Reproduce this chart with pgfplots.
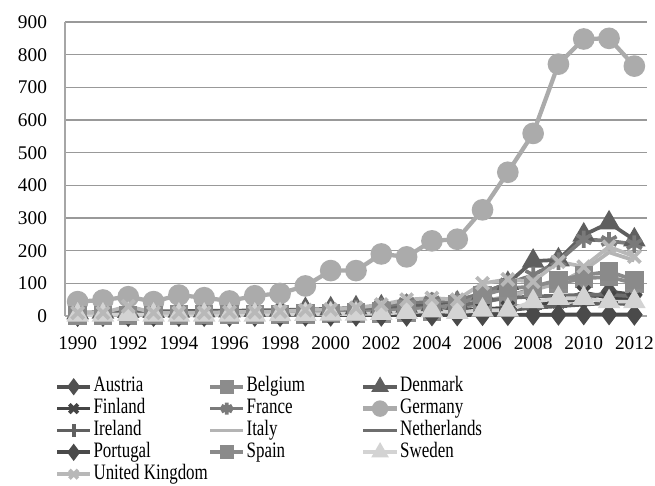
\documentclass[border=0pt]{standalone}
\usepackage{fontspec}
\setmainfont{Liberation Serif}
\usepackage{pgfplots}
\pgfplotsset{compat=1.18}

\definecolor{cAus}{HTML}{505050}
\definecolor{cBel}{HTML}{8C8C8C}
\definecolor{cDen}{HTML}{5F5F5F}
\definecolor{cFin}{HTML}{454545}
\definecolor{cFra}{HTML}{7A7A7A}
\definecolor{cGer}{HTML}{ABABAB}
\definecolor{cIre}{HTML}{606060}
\definecolor{cIta}{HTML}{B4B4B4}
\definecolor{cNet}{HTML}{6E6E6E}
\definecolor{cPor}{HTML}{4A4A4A}
\definecolor{cSpa}{HTML}{8A8A8A}
\definecolor{cSwe}{HTML}{D3D3D3}
\definecolor{cUK}{HTML}{B8B8B8}

% legend text: tall and condensed, fixed cell width so the columns line up
\newcommand\lent[1]{\addlegendentry{\makebox[85pt][l]{\fontsize{16.5}{14}\selectfont\scalebox{0.77}[1]{#1}}}}

\begin{document}
\begin{tikzpicture}
\useasboundingbox (-48.75pt,-126.75pt) rectangle (442.5pt,237pt);
\begin{axis}[
    scale only axis,
    width=436.5pt, height=220.5pt,
    xmin=1989.5, xmax=2012.5,
    ymin=0, ymax=900,
    xtick={1990,1992,...,2012},
    ytick={0,100,...,900},
    axis lines*=left,
    axis line style={draw=gray!70, line width=0.8pt},
    ymajorgrids,
    grid style={draw=gray!80, line width=0.8pt},
    tick style={draw=none},
    /pgf/number format/1000 sep={},
    /pgf/number format/assume math mode=true,
    tick label style={font=\fontsize{14.5}{16}\selectfont},
    yticklabel style={xshift=-10pt},
    xticklabel style={yshift=-12pt},
    every axis plot/.append style={line width=2.8pt, mark options={solid}},
    legend columns=3,
    legend cell align=left,
    legend style={
        at={(-0.0174,-0.203)}, anchor=north west,
        draw=none, fill=none, inner sep=0pt,
        nodes={inner sep=1pt, text height=11pt, text depth=3.2pt},
        row sep=0.2pt,
    },
    legend image post style={mark options={scale=0.7}},
    legend image code/.code={
        \draw[mark repeat=2, mark phase=2, #1]
            plot coordinates {(0pt,0pt) (12.5pt,0pt) (25pt,0pt)};
    },
]

% Austria
\addplot[cAus, mark=diamond*, mark size=6pt] coordinates {
(1990,2) (1991,2) (1992,3) (1993,3) (1994,4) (1995,4) (1996,5) (1997,5)
(1998,6) (1999,7) (2000,8) (2001,9) (2002,10) (2003,12) (2004,14) (2005,16)
(2006,20) (2007,25) (2008,35) (2009,45) (2010,50) (2011,75) (2012,65)};
\lent{Austria}

% Belgium
\addplot[cBel, mark=square*, mark size=5.5pt] coordinates {
(1990,1) (1991,1) (1992,1) (1993,2) (1994,2) (1995,2) (1996,3) (1997,3)
(1998,4) (1999,5) (2000,6) (2001,7) (2002,8) (2003,10) (2004,12) (2005,20)
(2006,40) (2007,60) (2008,85) (2009,100) (2010,115) (2011,120) (2012,100)};
\lent{Belgium}

% Denmark
\addplot[cDen, mark=triangle*, mark size=7pt] coordinates {
(1990,10) (1991,12) (1992,14) (1993,14) (1994,15) (1995,16) (1996,16) (1997,17)
(1998,18) (1999,20) (2000,22) (2001,25) (2002,28) (2003,30) (2004,35) (2005,40)
(2006,70) (2007,100) (2008,168) (2009,172) (2010,248) (2011,285) (2012,233)};
\lent{Denmark}

% Finland
\addplot[cFin, mark=x, mark size=6.5pt] coordinates {
(1990,3) (1991,3) (1992,4) (1993,4) (1994,5) (1995,5) (1996,6) (1997,6)
(1998,7) (1999,8) (2000,9) (2001,10) (2002,11) (2003,12) (2004,14) (2005,16)
(2006,20) (2007,25) (2008,35) (2009,45) (2010,72) (2011,55) (2012,50)};
\lent{Finland}

% France
\addplot[cFra, mark=asterisk, mark size=6.5pt] coordinates {
(1990,5) (1991,6) (1992,8) (1993,8) (1994,9) (1995,10) (1996,11) (1997,12)
(1998,13) (1999,15) (2000,18) (2001,22) (2002,30) (2003,40) (2004,45) (2005,48)
(2006,70) (2007,100) (2008,125) (2009,168) (2010,235) (2011,230) (2012,220)};
\lent{France}

% Germany
\addplot[cGer, line width=3.2pt, mark=*, mark size=6.5pt] coordinates {
(1990,44) (1991,49) (1992,59) (1993,44) (1994,64) (1995,56) (1996,46) (1997,62)
(1998,69) (1999,92) (2000,139) (2001,139) (2002,190) (2003,181) (2004,230) (2005,235)
(2006,325) (2007,440) (2008,559) (2009,771) (2010,848) (2011,850) (2012,765)};
\lent{Germany}

% Ireland
\addplot[cIre, mark=+, mark size=6.5pt] coordinates {
(1990,1) (1991,1) (1992,1) (1993,1) (1994,2) (1995,2) (1996,2) (1997,2)
(1998,3) (1999,3) (2000,4) (2001,4) (2002,5) (2003,6) (2004,7) (2005,8)
(2006,12) (2007,18) (2008,25) (2009,30) (2010,35) (2011,40) (2012,35)};
\lent{Ireland}

% Italy
\addplot[cIta, no markers] coordinates {
(1990,5) (1991,5) (1992,6) (1993,6) (1994,7) (1995,7) (1996,8) (1997,8)
(1998,9) (1999,10) (2000,12) (2001,14) (2002,16) (2003,18) (2004,22) (2005,30)
(2006,45) (2007,60) (2008,80) (2009,100) (2010,140) (2011,195) (2012,170)};
\lent{Italy}

% Netherlands
\addplot[cNet, no markers] coordinates {
(1990,4) (1991,5) (1992,6) (1993,6) (1994,7) (1995,8) (1996,9) (1997,10)
(1998,11) (1999,12) (2000,14) (2001,16) (2002,18) (2003,22) (2004,26) (2005,30)
(2006,45) (2007,55) (2008,60) (2009,62) (2010,65) (2011,65) (2012,60)};
\lent{Netherlands}

% Portugal
\addplot[cPor, mark=diamond*, mark size=6pt] coordinates {
(1990,0) (1991,0) (1992,0) (1993,0) (1994,0) (1995,0) (1996,0) (1997,0)
(1998,0) (1999,1) (2000,1) (2001,1) (2002,1) (2003,1) (2004,2) (2005,2)
(2006,3) (2007,3) (2008,4) (2009,4) (2010,5) (2011,5) (2012,4)};
\lent{Portugal}

% Spain
\addplot[cSpa, mark=square*, mark size=5.5pt] coordinates {
(1990,2) (1991,2) (1992,3) (1993,3) (1994,4) (1995,4) (1996,5) (1997,5)
(1998,6) (1999,8) (2000,10) (2001,12) (2002,15) (2003,20) (2004,25) (2005,35)
(2006,64) (2007,85) (2008,90) (2009,110) (2010,125) (2011,136) (2012,110)};
\lent{Spain}

% Sweden
\addplot[cSwe, mark=triangle*, mark size=7pt] coordinates {
(1990,3) (1991,3) (1992,5) (1993,3) (1994,3) (1995,3) (1996,3) (1997,3)
(1998,4) (1999,5) (2000,6) (2001,6) (2002,8) (2003,11) (2004,16) (2005,11)
(2006,18) (2007,18) (2008,44) (2009,54) (2010,54) (2011,44) (2012,44)};
\lent{Sweden}

% United Kingdom
\addplot[cUK, mark=x, mark size=6.5pt] coordinates {
(1990,10) (1991,10) (1992,30) (1993,10) (1994,10) (1995,10) (1996,12) (1997,12)
(1998,14) (1999,18) (2000,20) (2001,25) (2002,35) (2003,50) (2004,55) (2005,50)
(2006,100) (2007,112) (2008,105) (2009,166) (2010,151) (2011,212) (2012,182)};
\lent{United Kingdom}

\end{axis}
\end{tikzpicture}
\end{document}
